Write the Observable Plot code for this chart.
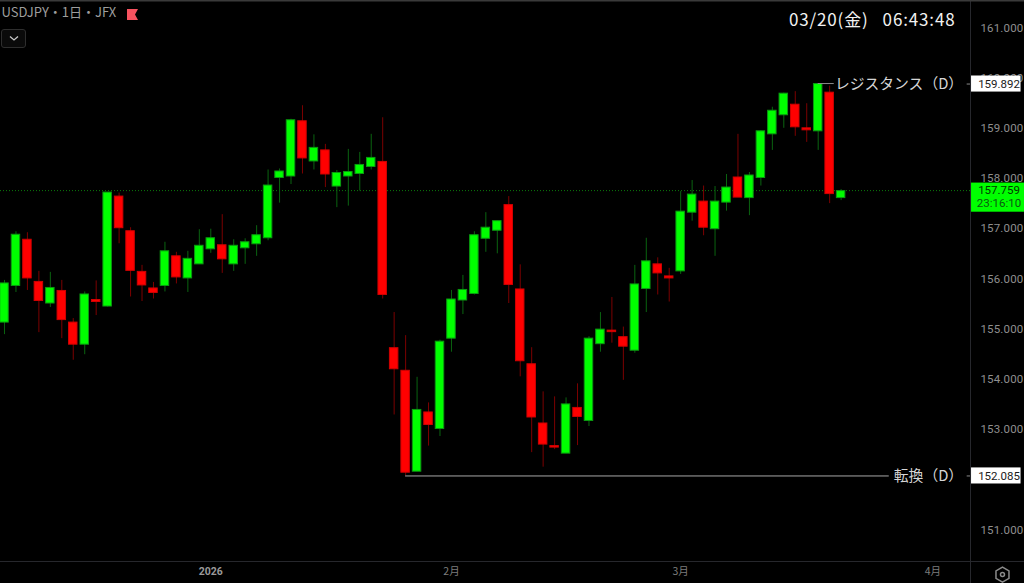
<!DOCTYPE html>
<html lang="ja">
<head>
<meta charset="utf-8">
<script src="https://cdn.jsdelivr.net/npm/d3@7"></script>
<script src="https://cdn.jsdelivr.net/npm/@observablehq/plot@0.6"></script>
<style>
html,body{margin:0;padding:0;background:#000;overflow:hidden}
#wrap{position:relative;width:1024px;height:583px}
#wrap svg.plot{display:block;background:#000}
#flag{position:absolute;left:127px;top:9px}
#drop{position:absolute;left:1px;top:29px;width:23px;height:17px;border:1px solid #2e2e2e;border-radius:3px;background:#0a0a0a}
#drop svg{position:absolute;left:7px;top:5px}
.clock text{letter-spacing:.85px}
.ticks text{letter-spacing:.15px}
</style>
</head>
<body>
<div id="wrap">
<div id="chart"></div>
<svg id="flag" width="12" height="12"><path d="M0 0H11L8 5.5L11 11H0Z" fill="#f7525f"/></svg>
<div id="drop"><svg width="10" height="7"><path d="M1 1.5L5 5L9 1.5" fill="none" stroke="#c8c8c8" stroke-width="1.3"/></svg></div>
</div>
<script>
const symbol = "USDJPY・1日・JFX";
const clock = "03/20(金)\u00a0\u00a0\u00a006:43:48";
// Daily candles, left to right (bar index = array position)
const high = [155.98,156.95,156.93,156.16,156.14,155.98,155.22,155.75,155.97,157.73,157.72,157.03,156.28,155.94,156.74,156.54,156.56,156.99,157.00,157.29,156.79,156.81,157.07,158.18,158.20,159.19,159.46,158.88,158.69,158.17,158.59,158.53,158.89,159.22,155.34,154.88,154.05,153.54,154.79,155.78,156.08,156.95,157.33,157.16,157.65,156.29,154.64,153.76,153.66,153.64,153.92,154.86,155.34,155.64,155.05,156.28,156.82,156.43,156.22,157.75,157.97,157.86,157.85,158.09,158.89,158.13,158.96,159.43,159.71,159.74,159.50,159.892,159.85,157.79];
const low = [154.90,155.74,155.78,154.94,155.44,154.82,154.39,154.50,155.28,155.45,156.71,155.65,155.56,155.61,155.75,155.91,155.74,156.30,156.52,156.12,156.16,156.30,156.46,156.77,157.52,157.89,158.10,158.18,157.83,157.43,157.46,157.76,158.18,155.61,153.30,152.085,152.17,152.68,152.87,154.55,155.30,155.69,156.54,156.51,155.52,154.06,152.55,152.26,152.61,152.53,152.69,153.07,154.55,154.73,153.99,154.53,155.34,155.69,155.55,156.10,157.16,156.87,156.46,157.36,157.63,157.27,157.86,158.57,159.01,158.85,158.73,158.57,157.51,157.57];
const open = [155.14,155.87,156.79,155.95,155.52,155.77,155.14,154.70,155.59,155.46,157.65,156.96,156.15,155.82,155.87,156.46,156.02,156.30,156.60,156.68,156.30,156.62,156.70,156.82,158.02,158.05,159.15,158.35,158.57,157.85,158.05,158.10,158.24,158.34,154.63,154.18,152.17,153.35,153.02,154.82,155.58,155.71,156.81,156.97,157.48,155.80,154.31,153.13,152.68,152.53,153.44,153.18,154.71,154.98,154.85,154.58,155.81,156.30,156.06,156.16,157.33,157.55,157.00,157.53,158.03,157.62,158.02,158.89,159.27,159.48,159.01,158.95,159.72,157.62];
const close = [155.92,156.89,156.02,155.57,155.83,155.19,154.70,155.70,155.55,157.73,157.02,156.17,155.88,155.73,156.56,156.04,156.41,156.67,156.82,156.40,156.67,156.74,156.88,157.87,158.15,159.17,158.41,158.62,158.09,158.12,158.14,158.28,158.42,155.69,154.21,152.15,153.40,153.10,154.76,155.60,155.79,156.88,157.03,157.16,155.89,154.37,153.25,152.71,152.65,153.51,153.26,154.82,155.00,154.95,154.66,155.90,156.36,156.12,156.02,157.35,157.69,157.03,157.55,157.83,157.63,158.07,158.95,159.36,159.70,159.03,158.97,159.892,157.70,157.759];

const priceTicks = [151,153,154,155,156,157,158,159,160,161];
const monthTicks = [39,59,81];
const monthLabels = ["2月","3月","4月"];
const yearTick = [18];
const yearLabel = "2026";

const resistance = 159.892, resistanceLabel = "レジスタンス（D）";
const pivot = 152.085, pivotLabel = "転換（D）";
const lastPrice = 157.759, countdown = "23:16:10";

const bars = high.map((h,i)=>({i,high:h,low:low[i],open:open[i],close:close[i]}));
const up = d => d.close >= d.open;
const BW = 0.37;
const GREY = "#8f8f8f", RULE = "#26272c";
const fontUI = "Roboto, 'Noto Sans CJK JP', sans-serif";
const fontJP = "'Noto Sans CJK JP', sans-serif";

// x positions of the price column, in bar-index units
const xL = 84.29, tagL = 84.38, tagR = 88.7, tagRG = 89, xEnd = 89.0, tagText = 86.78;
const yTop = 161.546, yBot = 150.371;

const chart = Plot.plot({
  width:1024, height:583,
  marginTop:0, marginBottom:22, marginLeft:0, marginRight:54,
  style:{background:"#000", fontFamily:fontUI},
  x:{domain:[-0.349,xL], axis:null},
  y:{domain:[yBot,yTop], axis:null},
  marks:[
    Plot.ruleX([xL],{y1:yBot-0.5,y2:yTop,stroke:RULE}),
    Plot.ruleY([yBot],{x1:-0.349,x2:xEnd,stroke:RULE}),
    Plot.ruleY([yTop],{x1:-0.349,x2:xEnd,stroke:"#3a3a3a",strokeWidth:2}),
    Plot.ruleY([lastPrice],{x1:-0.349,x2:xL,stroke:"#0b7a0b",strokeDasharray:"1,2",strokeWidth:1}),
    Plot.ruleX(bars,{x:"i",y1:"low",y2:"high",dy:0.5,stroke:d=>up(d)?"#0a6410":"#7c0000",strokeWidth:1}),
    Plot.rect(bars,{x1:d=>d.i-BW,x2:d=>d.i+BW,y1:"open",y2:"close",dy:0.5,fill:d=>up(d)?"#00ff00":"#ff0000",stroke:d=>up(d)?"#0a9a10":"#d00000",strokeWidth:1}),
    Plot.axisY({anchor:"right",ticks:priceTicks,tickFormat:d=>d.toFixed(3),tickSize:0,tickPadding:10,label:null,fill:GREY,fontSize:11.5,fontFamily:fontUI,className:"ticks"}),
    Plot.axisX({anchor:"bottom",ticks:monthTicks,tickFormat:(d)=>monthLabels[monthTicks.indexOf(d)],tickSize:0,tickPadding:6,label:null,fill:"#7d7d7d",fontSize:10.5,fontFamily:fontJP}),
    Plot.axisX({anchor:"bottom",ticks:yearTick,tickFormat:()=>yearLabel,tickSize:0,tickPadding:6,label:null,fill:"#9a9a9a",fontSize:10.5,fontWeight:"bold",fontFamily:fontUI}),
    // horizontal level lines
    Plot.ruleY([resistance],{x1:71,x2:72.4,stroke:"#8a8a8a"}),
    Plot.ruleY([pivot],{x1:35,x2:77.2,dy:0.5,stroke:"#a8a8a8"}),
    Plot.ruleY([resistance,pivot],{x1:84,x2:xL,dy:0.5,stroke:"#8a8a8a"}),
    Plot.text([resistanceLabel],{x:83.65,y:[resistance],dy:1,text:d=>d,textAnchor:"end",fill:"#d6d6d6",fontSize:14.8,fontFamily:fontJP}),
    Plot.text([pivotLabel],{x:83.65,y:[pivot],dy:1,text:d=>d,textAnchor:"end",fill:"#d6d6d6",fontSize:14.8,fontFamily:fontJP}),
    // price tags
    Plot.rect([resistance,pivot],{x1:tagL,x2:tagR,y1:d=>d-0.16,y2:d=>d+0.16,dy:0.5,fill:"#fff"}),
    Plot.text([resistance,pivot],{x:tagText,y:d=>d,dy:0.5,text:d=>d.toFixed(3),fill:"#1a1a1a",fontSize:11.5,fontFamily:fontUI}),
    Plot.rect([lastPrice],{x1:tagL,x2:tagRG,y1:d=>d+0.15,y2:d=>d-0.43,fill:"#00ff00"}),
    Plot.text([lastPrice],{x:tagText,y:d=>d,text:d=>d.toFixed(3),fill:"#003a00",fontSize:11.5,fontFamily:fontUI}),
    Plot.text([countdown],{x:tagText,y:[lastPrice-0.25],text:d=>d,fill:"#0a5a10",fontSize:11.5,fontFamily:fontUI}),
    // header
    Plot.text([symbol],{frameAnchor:"top-left",dx:1,dy:7,text:d=>d,fill:"#9d9d9d",fontSize:13,lineAnchor:"top",fontFamily:fontJP}),
    Plot.text([clock],{frameAnchor:"top-right",dx:-15,dy:13,text:d=>d,fill:"#f2f2f2",fontSize:17,lineAnchor:"top",fontFamily:fontJP,className:"clock"}),
    // settings icon
    Plot.dot([0],{x:[87.08],y:[150.11],symbol:"hexagon",r:6.5,stroke:"#8a8a8a",fill:"none"}),
    Plot.dot([0],{x:[87.08],y:[150.11],r:2,stroke:"#8a8a8a",fill:"none"})
  ]
});
document.getElementById("chart").append(chart);
</script>
</body>
</html>
